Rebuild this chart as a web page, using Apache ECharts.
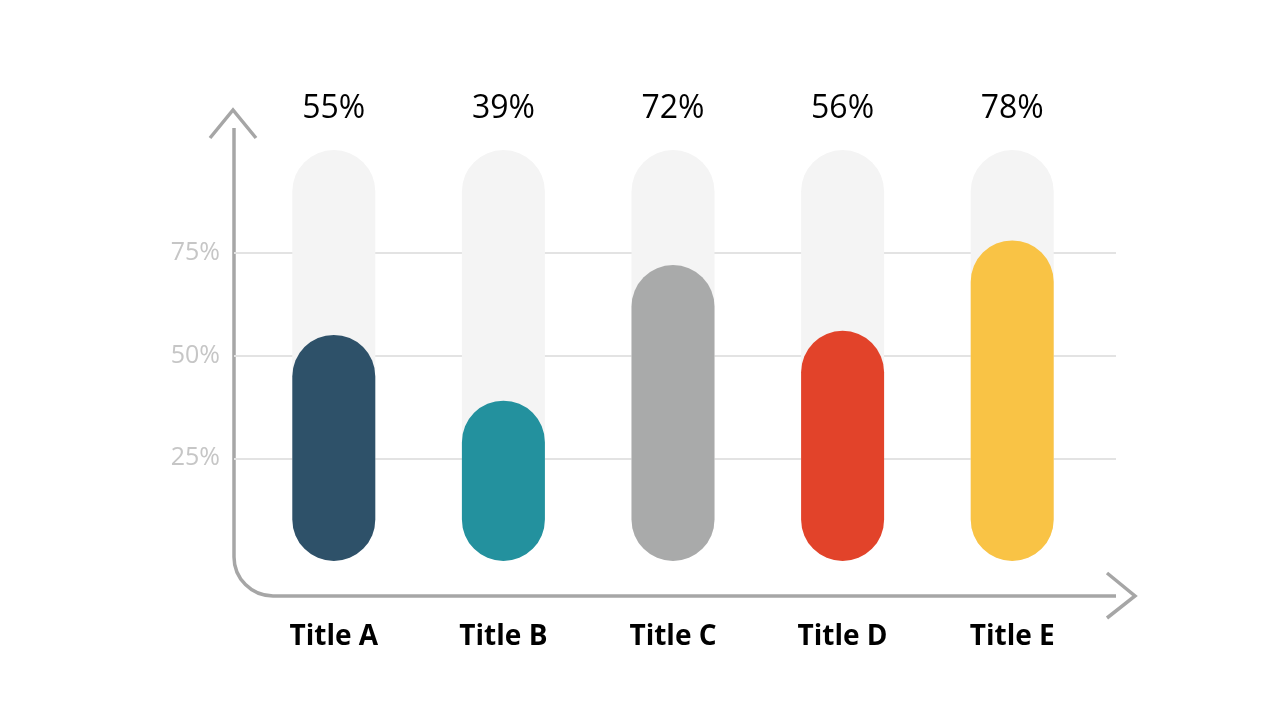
<!DOCTYPE html>
<html>
<head>
<meta charset="utf-8">
<style>
  html, body { margin: 0; padding: 0; background: #fff; }
  #main { width: 1280px; height: 720px; }
</style>
<script src="https://cdn.jsdelivr.net/npm/echarts@6/dist/echarts.min.js"></script>
</head>
<body>
<div id="main"></div>
<script>
// chart data
const categories = ["Title A", "Title B", "Title C", "Title D", "Title E"];
const values = [55, 39, 72, 56, 78];
const barColors = ["#2e5169", "#23919e", "#a9aaaa", "#e2432a", "#f9c345"];
const trackMax = [100, 100, 100, 100, 100];
const yTicks = [25, 50, 75];

const chart = echarts.init(document.getElementById("main"));
const axisGray = "#a6a6a6";
const axisStroke = { fill: null, stroke: axisGray, lineWidth: 3.5 };

const option = {
  animation: false,
  textStyle: { fontFamily: "Open Sans" },
  grid: [
    // grid for the gridlines + y labels (spans the whole drawn axis)
    { left: 234, right: 164, top: 150, bottom: 159 },
    // grid for the bars
    { left: 249, right: 183, top: 150, bottom: 159 },
  ],
  xAxis: [
    { type: "value", gridIndex: 0, show: false },
    {
      type: "category",
      gridIndex: 1,
      data: categories,
      axisLine: { show: false },
      axisTick: { show: false },
      axisLabel: {
        margin: 62,
        fontSize: 28,
        fontWeight: "bold",
        color: "#000",
      },
    },
  ],
  yAxis: [
    {
      type: "value",
      gridIndex: 0,
      min: 0,
      max: 100,
      interval: 25,
      axisLine: { show: false },
      axisTick: { show: false },
      axisLabel: {
        margin: 14,
        fontSize: 25,
        color: "#c6c6c6",
        formatter: (v) => (yTicks.indexOf(v) >= 0 ? v + "%" : ""),
      },
      splitLine: {
        show: true,
        showMinLine: false,
        showMaxLine: false,
        lineStyle: { color: "#e3e3e3", width: 2 },
      },
    },
    { type: "value", gridIndex: 1, min: 0, max: 100, show: false },
  ],
  series: [
    {
      name: "track",
      type: "bar",
      xAxisIndex: 1,
      yAxisIndex: 1,
      barWidth: 83,
      barGap: "-100%",
      data: trackMax,
      itemStyle: { color: "#f4f4f4", borderRadius: 41.5 },
      label: {
        show: true,
        position: "top",
        distance: 25,
        fontSize: 32,
        color: "#000",
        formatter: (p) => values[p.dataIndex] + "%",
      },
      silent: true,
    },
    {
      name: "value",
      type: "bar",
      xAxisIndex: 1,
      yAxisIndex: 1,
      barWidth: 83,
      barGap: "-100%",
      data: values.map((v, i) => ({ value: v, itemStyle: { color: barColors[i] } })),
      itemStyle: { borderRadius: 41.5 },
      z: 3,
    },
  ],
  graphic: [
    {
      type: "line",
      shape: { x1: 234, y1: 128, x2: 234, y2: 557 },
      style: axisStroke,
    },
    {
      type: "arc",
      shape: { cx: 273, cy: 557, r: 39, startAngle: Math.PI / 2, endAngle: Math.PI, clockwise: true },
      style: axisStroke,
    },
    {
      type: "line",
      shape: { x1: 273, y1: 596, x2: 1116, y2: 596 },
      style: axisStroke,
    },
    {
      type: "polyline",
      shape: { points: [[210, 138], [233, 110], [256, 138]] },
      style: axisStroke,
    },
    {
      type: "polyline",
      shape: { points: [[1107, 573], [1135, 596], [1107, 618]] },
      style: axisStroke,
    },
  ],
};

chart.setOption(option);
</script>
</body>
</html>
